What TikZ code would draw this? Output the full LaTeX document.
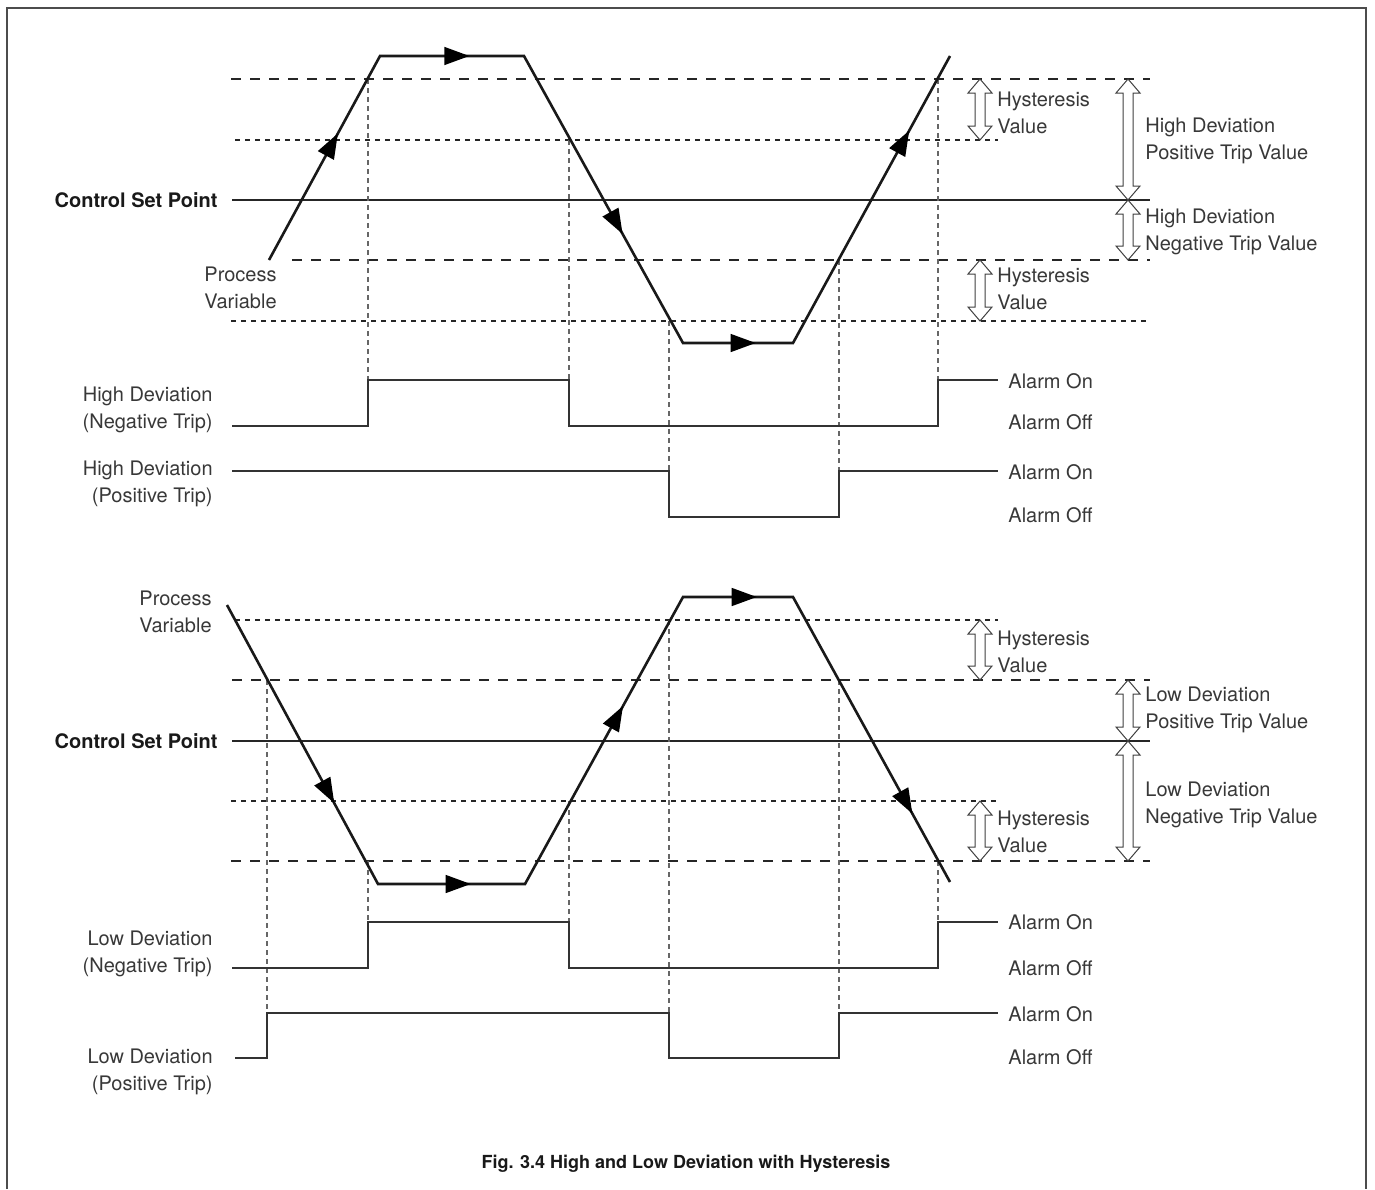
\documentclass[tikz,border=0pt]{standalone}
\usepackage{fontspec}
\setmainfont{TeX Gyre Heros}
\usetikzlibrary{arrows.meta,decorations.markings}
\newcommand\hollowarrow[3]{%
  \draw[hollow] (#1,#2) -- (#1+12,#2+14) -- (#1+5,#2+14) -- (#1+5,#3-14) -- (#1+12,#3-14)
    -- (#1,#3) -- (#1-12,#3-14) -- (#1-5,#3-14) -- (#1-5,#2+14) -- (#1-12,#2+14) -- cycle;}
\begin{document}
\begin{tikzpicture}[x=0.5pt,y=-0.5pt,
  thickdash/.style={line width=1.3pt, dash pattern=on 5pt off 4.5pt, black!85},
  thindash/.style={line width=0.75pt, dash pattern=on 2.6pt off 2.4pt, black!85},
  vdash/.style={line width=0.55pt, dash pattern=on 2.5pt off 2pt, black!60},
  setline/.style={line width=1.3pt, black!85},
  pvline/.style={line width=1.3pt, black!90, line join=miter},
  wave/.style={line width=1.1pt, black!80},
  hollow/.style={draw=black!75, line width=0.5pt, fill=white},
  lbl/.style={font=\fontsize{10}{13.5}\selectfont, text=black!78, inner sep=0pt},
  lblr/.style={lbl, anchor=east, align=right},
  lbll/.style={lbl, anchor=west, align=left},
  bold/.style={lbl, font=\fontsize{10}{13.5}\selectfont\bfseries, text=black!90},
  pvmark/.style={postaction={decorate}, decoration={markings,
     mark=at position #1 with {\fill[black] (0pt,0pt) -- (-12.5pt,4.6pt) -- (-12.5pt,-4.6pt) -- cycle;}}}
]
\useasboundingbox (0,0) rectangle (1375,1189);
% frame
\draw[line width=1pt, black!70] (7,1189) -- (7,8) -- (1366,8) -- (1366,1189);

% ================= TOP =================
\draw[thickdash] (231,79) -- (1150,79);
\draw[thindash] (235,140) -- (998,140);
\draw[setline] (232,200) -- (1150,200);
\draw[thickdash] (292,260) -- (1150,260);
\draw[thindash] (231,321) -- (1150,321);

\draw[vdash] (368,79) -- (368,380);
\draw[vdash] (569,140) -- (569,426);
\draw[vdash] (669,321) -- (669,471);
\draw[vdash] (839,260) -- (839,471);
\draw[vdash] (938,79) -- (938,380);

\coordinate (a0) at (269,260);
\coordinate (a1) at (380,56);
\coordinate (a2) at (524,56);
\coordinate (a3) at (683,343);
\coordinate (a4) at (793,343);
\coordinate (a5) at (950,56);
\draw[pvline] (a0) -- (a1) -- (a2) -- (a3) -- (a4) -- (a5);
\path[pvmark=0.62] (a0) -- (a1);
\path[pvmark=0.62] (a1) -- (a2);
\path[pvmark=0.62] (a2) -- (a3);
\path[pvmark=0.66] (a3) -- (a4);
\path[pvmark=0.74] (a4) -- (a5);

\draw[wave] (232,426) -- (368,426) -- (368,380) -- (569,380) -- (569,426) -- (938,426) -- (938,380) -- (998,380);
\draw[wave] (232,471) -- (669,471) -- (669,517) -- (839,517) -- (839,471) -- (998,471);

\hollowarrow{980}{79}{140}
\hollowarrow{980}{260}{321}
\hollowarrow{1128}{79}{200}
\hollowarrow{1128}{200}{260}

\node[bold, anchor=east] (csp1) at (218,200) {Control Set Point};
\node[lblr] (pv1) at (277,288) {Process\\Variable};
\node[lbll] (hy1) at (997,113) {Hysteresis\\Value};
\node[lbll] (hy2) at (997,289) {Hysteresis\\Value};
\node[lbll] (hdp) at (1145,141) {High Deviation\\Positive Trip Value};
\node[lbll] (hdn) at (1145,232) {High Deviation\\Negative Trip Value};
\node[lblr] (hnt) at (213,410) {High Deviation\\(Negative Trip)};
\node[lblr] (hpt) at (213,484) {High Deviation\\(Positive Trip)};
\node[lbll] (on1) at (1008,381) {Alarm On};
\node[lbll] (off1) at (1008,422) {Alarm Off};
\node[lbll] (on2) at (1008,472) {Alarm On};
\node[lbll] (off2) at (1008,515) {Alarm Off};

% ================= BOTTOM =================
\draw[thindash] (235,620) -- (998,620);
\draw[thickdash] (232,680) -- (1150,680);
\draw[setline] (232,741) -- (1150,741);
\draw[thindash] (231,801) -- (998,801);
\draw[thickdash] (231,861) -- (1150,861);

\draw[vdash] (267,680) -- (267,1013);
\draw[vdash] (368,861) -- (368,922);
\draw[vdash] (569,801) -- (569,968);
\draw[vdash] (669,620) -- (669,1013);
\draw[vdash] (839,680) -- (839,1013);
\draw[vdash] (938,861) -- (938,922);

\coordinate (b0) at (227,605);
\coordinate (b1) at (378,884);
\coordinate (b2) at (525,884);
\coordinate (b3) at (683,597);
\coordinate (b4) at (793,597);
\coordinate (b5) at (950,882);
\draw[pvline] (b0) -- (b1) -- (b2) -- (b3) -- (b4) -- (b5);
\path[pvmark=0.71] (b0) -- (b1);
\path[pvmark=0.63] (b1) -- (b2);
\path[pvmark=0.62] (b2) -- (b3);
\path[pvmark=0.67] (b3) -- (b4);
\path[pvmark=0.76] (b4) -- (b5);

\draw[wave] (232,968) -- (368,968) -- (368,922) -- (569,922) -- (569,968) -- (938,968) -- (938,922) -- (998,922);
\draw[wave] (235,1058) -- (267,1058) -- (267,1013) -- (669,1013) -- (669,1058) -- (839,1058) -- (839,1013) -- (998,1013);

\hollowarrow{980}{620}{680}
\hollowarrow{980}{801}{861}
\hollowarrow{1128}{680}{741}
\hollowarrow{1128}{741}{861}

\node[lblr] (pv2) at (212,612) {Process\\Variable};
\node[bold, anchor=east] (csp2) at (218,741) {Control Set Point};
\node[lbll] (hy3) at (997,652) {Hysteresis\\Value};
\node[lbll] (hy4) at (997,832) {Hysteresis\\Value};
\node[lbll] (ldp) at (1145,710) {Low Deviation\\Positive Trip Value};
\node[lbll] (ldn) at (1145,805) {Low Deviation\\Negative Trip Value};
\node[lblr] (lnt) at (213,954) {Low Deviation\\(Negative Trip)};
\node[lblr] (lpt) at (213,1072) {Low Deviation\\(Positive Trip)};
\node[lbll] (on3) at (1008,922) {Alarm On};
\node[lbll] (off3) at (1008,968) {Alarm Off};
\node[lbll] (on4) at (1008,1014) {Alarm On};
\node[lbll] (off4) at (1008,1057) {Alarm Off};

\node[bold, font=\fontsize{9}{11}\selectfont\bfseries] (cap) at (686,1164) {Fig. 3.4 High and Low Deviation with Hysteresis};
\end{tikzpicture}
\end{document}
